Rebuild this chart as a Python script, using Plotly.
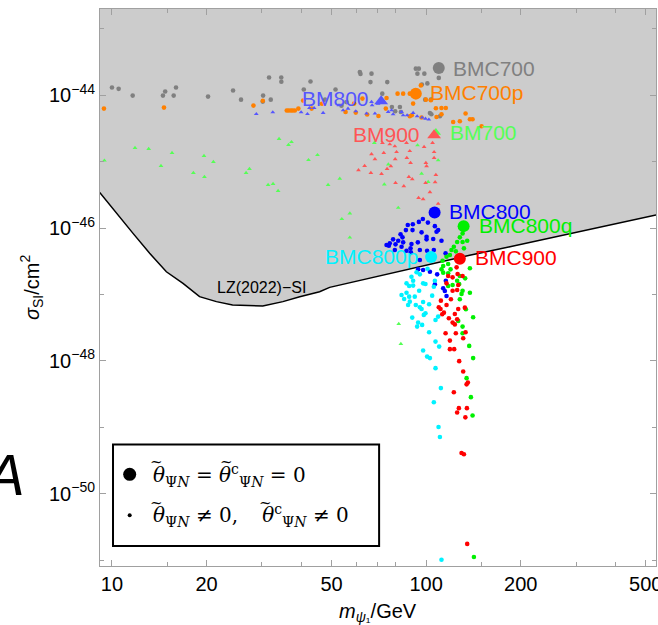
import numpy as np
import plotly.graph_objects as go

# ---------------- data ----------------
# LZ(2022) spin-independent exclusion limit
lz_mass = [9.14, 10.33, 11.67, 13.18, 14.90, 16.83, 19.0, 21.5, 24.2, 30.2, 35.0, 39.6,
           45.8, 49.3, 72.5, 102.8, 137.5, 184.8, 266.6, 384.6, 539]
lz_sigma = [3.44e-46, 1.66e-46, 8.32e-47, 4.17e-47, 2.2e-47, 1.47e-47, 9.27e-48, 7.8e-48,
            6.95e-48, 6.71e-48, 7.8e-48, 9.27e-48, 1.1e-47, 1.28e-47, 1.96e-47, 2.88e-47,
            3.89e-47, 5.24e-47, 7.64e-47, 1.11e-46, 1.57e-46]

# BMC700 scan (grey)
bmc700_m = [10.0, 10.5, 11.64, 14.53, 14.77, 15.72, 15.99, 20.22, 24.29, 25.75, 30.27, 30.2,
            32.02, 31.62, 34.58, 34.6, 42.84, 40.79, 47.69, 51.47, 53.78, 55.79, 61.5, 61.8,
            67.0, 66.5, 75.2, 72.5, 77.8, 79.7, 82.5, 83.1, 92.7, 94.8, 93.8, 98.7, 96.9,
            100.9, 109.7, 102.8, 103.9, 110.6, 99.3, 103.5]
bmc700_s = [1.31e-44, 1.25e-44, 9.9e-45, 9.9e-45, 1.14e-44, 9.9e-45, 1.31e-44, 9.56e-45,
            1.18e-44, 8.6e-45, 9.9e-45, 8.04e-45, 8.6e-45, 1.85e-44, 1.85e-44, 1.6e-44,
            1.61e-44, 1.22e-44, 8.6e-45, 1.22e-44, 6.95e-45, 7.9e-45, 2.24e-44, 2.1e-44,
            2.12e-44, 1.58e-44, 1.58e-44, 1.06e-44, 6.67e-45, 5.74e-45, 6.67e-45, 5.6e-45,
            2.52e-44, 2.52e-44, 2.12e-44, 2.12e-44, 1.45e-44, 1.51e-44, 1.83e-44, 5.42e-45,
            5.18e-45, 4.83e-45, 8.6e-45, 8.6e-45]

# BMC700p scan (orange)
bmc700p_m = [9.43, 14.64, 28.2, 30.2, 36.0, 36.5, 37.1, 37.6, 38.2, 39.2, 40.6, 43.2, 46.6,
             55.4, 59.0, 59.7, 62.7, 64.9, 70.5, 74.4, 74.8, 81.1, 84.5, 88.7, 96.2, 90.9,
             99.8, 103.5, 107.4, 111.9, 115.5, 111.9, 90.0, 96.7, 88.7, 107.9, 121.9, 128.0,
             133.5, 137.8, 140.5, 150.1]
bmc700p_s = [6.31e-45, 6.53e-45, 7.0e-45, 8.27e-45, 5.89e-45, 5.89e-45, 5.89e-45, 5.89e-45,
             5.89e-45, 6.31e-45, 8.32e-45, 6.31e-45, 7.45e-45, 5.61e-45, 7.5e-45, 5.49e-45,
             8.92e-45, 5.13e-45, 4.89e-45, 6.31e-45, 9.11e-45, 1.06e-44, 1.06e-44, 1.06e-44,
             1.41e-44, 7.5e-45, 8.6e-45, 8.41e-45, 6.37e-45, 6.44e-45, 6.44e-45, 5.18e-45,
             5.0e-45, 4.62e-45, 4.83e-45, 4.72e-45, 3.97e-45, 4.06e-45, 5.31e-45, 4.36e-45,
             4.36e-45, 3.42e-45]

# BM800 scan (light blue triangles)
bm800_m = [28.8, 32.5, 40.0, 41.9, 42.5, 44.0, 47.0, 52.8, 54.4, 56.4, 59.7, 64.6, 67.0, 67.3,
           68.7, 70.3, 75.7, 77.6, 78.5, 83.5, 84.5, 87.0, 90.9, 93.6, 97.1, 99.5, 102.0]
bm800_s = [5.23e-45, 5.55e-45, 5.55e-45, 5.23e-45, 6.44e-45, 6.44e-45, 5.42e-45, 7.07e-45,
           5.95e-45, 6.31e-45, 5.74e-45, 5.31e-45, 7.94e-45, 7.07e-45, 5.31e-45, 7.5e-45,
           5.61e-45, 5.95e-45, 5.18e-45, 5.61e-45, 5.0e-45, 5.0e-45, 5.42e-45, 4.83e-45,
           4.62e-45, 4.46e-45, 4.31e-45]

# BM700 scan (light green triangles)
bm700_m = [9.46, 11.84, 13.09, 15.53, 14.32, 19.63, 21.03, 18.16, 19.69, 26.72, 27.39, 34.03,
           36.46, 37.27, 42.22, 45.1, 31.4, 32.56, 33.79, 48.74, 53.1, 57.15, 53.9, 57.15,
           68.4, 75.8, 73.6, 81.5, 96.7, 101.5, 109.2, 93.9, 81.8, 83.1]
bm700_s = [1.04e-45, 1.61e-45, 1.56e-45, 1.36e-45, 8.64e-46, 1.22e-45, 9.93e-46, 6.79e-46,
           5.91e-46, 6.79e-46, 7.79e-46, 2.2e-45, 1.79e-45, 1.98e-45, 1.06e-45, 1.26e-45,
           4.48e-46, 4.64e-46, 3.64e-46, 4.48e-46, 5.55e-46, 1.66e-46, 1.37e-46, 7.2e-47,
           1.92e-45, 9.1e-46, 4.54e-46, 2.02e-46, 6.6e-46, 4.97e-46, 1.05e-45, 1.77e-45,
           3.6e-48, 1.8e-48]

# BM900 scan (light red triangles)
bm900_m = [72.6, 76.6, 79.5, 86.6, 98.5, 104.8, 67.0, 73.3, 80.5, 88.7, 106.0, 68.7, 79.7,
           86.8, 106.0, 63.7, 77.2, 89.2, 99.8, 100.3, 60.9, 66.7, 72.1, 75.1, 88.1, 90.3,
           107.4, 79.9, 84.9, 99.6, 106.8, 102.8, 94.6, 97.8, 109.2]
bm900_s = [1.92e-45, 1.83e-45, 1.71e-45, 1.92e-45, 1.67e-45, 1.92e-45, 1.3e-45, 1.36e-45,
           1.4e-45, 1.45e-45, 1.4e-45, 1.09e-45, 1.09e-45, 1.14e-45, 1.14e-45, 8.64e-46,
           8.56e-46, 9.59e-46, 9.59e-46, 8.56e-46, 7.45e-46, 6.79e-46, 6.55e-46, 7.79e-46,
           5.91e-46, 5.45e-46, 6.33e-46, 4.8e-46, 4.28e-46, 4.8e-46, 4.92e-46, 3.48e-46,
           2.85e-46, 2.73e-46, 2.32e-46]

# BMC800 scan (blue)
bmc800_m = [97.6, 101.3, 94.8, 90.7, 87.4, 86.2, 90.5, 96.7, 106.6, 107.9, 111.9, 100.3, 82.9,
            84.1, 81.5, 78.5, 76.1, 79.9, 84.5, 89.8, 94.1, 100.3, 105.3, 109.2, 95.5, 89.2,
            86.6, 83.5, 79.5, 76.6, 74.8, 100.7, 105.8, 115.3, 94.3, 97.8, 102.8, 108.4,
            115.5, 106.6, 113.3, 114.7, 116.1, 89.4, 95.5]
bmc800_s = [1.37e-46, 1.21e-46, 1.24e-46, 1.14e-46, 1.11e-46, 9.33e-47, 9.33e-47, 8.62e-47,
            1.07e-46, 8.8e-47, 6.44e-47, 7.4e-47, 8.04e-47, 7.25e-47, 6.44e-47, 6.76e-47,
            5.42e-47, 5.69e-47, 6.1e-47, 5.75e-47, 6.1e-47, 6.76e-47, 6.83e-47, 9.33e-47,
            4.67e-47, 4.95e-47, 4.56e-47, 5.23e-47, 4.67e-47, 5.89e-47, 5.55e-47, 4.56e-47,
            4.67e-47, 4.16e-47, 2.39e-47, 2.34e-47, 2.2e-47, 2.01e-47, 1.61e-47, 1.42e-47,
            1.24e-47, 1.13e-47, 9.5e-48, 4.31e-47, 3.3e-47]

# BMC800p scan (cyan)
bmc800p_m = [93.2, 95.5, 101.0, 90.9, 89.8, 86.6, 88.3, 90.9, 97.8, 99.5, 105.8, 106.6, 95.0,
             86.6, 83.5, 92.0, 85.1, 88.3, 88.7, 87.6, 97.8, 102.2, 104.5, 92.7, 95.5, 96.7,
             99.5, 98.3, 90.3, 109.2, 107.1, 94.3, 93.6, 97.1, 102.2, 107.1, 110.0, 97.8,
             100.7, 102.8, 107.1, 111.4, 105.8, 109.5, 110.6, 111.9]
bmc800p_s = [2.16e-47, 2.01e-47, 2.44e-47, 1.61e-47, 1.85e-47, 1.47e-47, 1.34e-47, 1.36e-47,
             1.47e-47, 1.44e-47, 1.31e-47, 1.61e-47, 1.14e-47, 1.06e-47, 9.83e-48, 9.27e-48,
             8.56e-48, 9.27e-48, 7.79e-48, 6.95e-48, 7.71e-48, 7.12e-48, 9.6e-48, 6.95e-48,
             6.42e-48, 6.05e-48, 5.22e-48, 4.92e-48, 4.48e-48, 4.64e-48, 4.13e-48, 3.77e-48,
             3.28e-48, 3.48e-48, 2.7e-48, 1.95e-48, 1.64e-48, 1.43e-48, 1.16e-48, 1.1e-48,
             7.77e-49, 3.89e-49, 2.38e-49, 1.01e-49, 7.12e-50, 1.01e-51]

# BMC800q scan (green)
bmc800q_m = [130.6, 128.0, 125.5, 130.6, 135.1, 122.5, 120.4, 124.3, 131.9, 119.0, 116.1,
             112.8, 117.5, 113.3, 111.9, 119.6, 137.8, 113.3, 117.5, 128.0, 133.1, 125.5,
             127.4, 117.5, 121.4, 130.6, 137.8, 129.6, 128.0, 133.8, 141.1, 126.5, 130.6,
             130.6, 137.1, 141.1, 134.5, 138.8, 140.5, 141.9]
bmc800q_s = [8.32e-47, 7.25e-47, 6.16e-47, 6.16e-47, 6.44e-47, 5.23e-47, 4.67e-47, 4.46e-47,
             4.95e-47, 3.93e-47, 3.7e-47, 3.22e-47, 2.87e-47, 2.68e-47, 2.39e-47, 2.39e-47,
             2.48e-47, 2.13e-47, 2.08e-47, 1.9e-47, 1.75e-47, 1.61e-47, 1.44e-47, 1.34e-47,
             1.39e-47, 1.14e-47, 1.06e-47, 1.02e-47, 8.47e-48, 5.99e-48, 4.54e-48, 4.0e-48,
             3.28e-48, 2.61e-48, 1.68e-48, 1.1e-48, 5.49e-49, 2.84e-49, 1.5e-49, 1.11e-51]

# BMC900 scan (red)
bmc900_m = [125.0, 117.5, 121.4, 125.9, 130.6, 116.1, 126.5, 125.5, 121.4, 111.4, 119.9, 109.7,
            111.1, 113.9, 112.5, 116.1, 123.4, 118.1, 121.4, 123.4, 125.5, 132.8, 126.5, 115.3,
            124.3, 133.5, 131.2, 119.0, 119.0, 122.8, 127.4, 131.2, 135.8, 134.5, 122.5, 127.1,
            134.8, 125.5, 133.3, 129.6, 131.9, 135.1]
bmc900_s = [2.56e-47, 1.9e-47, 1.81e-47, 2.03e-47, 1.9e-47, 1.47e-47, 1.39e-47, 1.17e-47,
            1.14e-47, 8.07e-48, 8.47e-48, 6.42e-48, 6.05e-48, 5.32e-48, 5.04e-48, 6.95e-48,
            5.09e-48, 4.39e-48, 3.77e-48, 3.54e-48, 4.24e-48, 6.33e-48, 6.05e-48, 2.61e-48,
            2.61e-48, 2.7e-48, 2.19e-48, 2.02e-48, 1.5e-48, 1.5e-48, 9.9e-49, 6.9e-49, 4.72e-49,
            4.43e-49, 3.36e-49, 1.94e-49, 1.94e-49, 1.67e-49, 1.41e-49, 4.09e-50, 3.93e-50,
            1.75e-51]

# benchmark points (vanishing mixing angles)
bench_names = ["BMC700", "BMC700p", "BM800", "BM900", "BM700",
               "BMC800", "BMC800q", "BMC800p", "BMC900"]
bench_mass = [109.7, 92.7, 71.9, 106.0, 107.4, 106.4, 131.6, 103.7, 128.0]
bench_sigma = [2.57e-44, 1.06e-44, 8.12e-45, 2.5e-45, 2.75e-45, 1.72e-46, 1.07e-46, 3.66e-47, 3.45e-47]

x_ticks = [10, 20, 50, 100, 200, 500]
x_minor = [15, 30, 40, 60, 70, 80, 150, 300, 400]
y_ticks = [1e-50, 1e-48, 1e-46, 1e-44]
y_tick_text = ["10<sup>\u221250</sup>", "10<sup>\u221248</sup>", "10<sup>\u221246</sup>", "10<sup>\u221244</sup>"]
y_minor = [1e-51, 1e-49, 1e-47, 1e-45, 1e-43]

# ---------------- styling ----------------
GREY = "#808080"
ORANGE = "#ff8000"
LBLUE = "#5555ff"
LRED = "#ff5555"
LGREEN = "#55ff55"
BLUE = "#0000ff"
GREEN = "#00f000"
CYAN = "#00f2ff"
RED = "#ff0000"
AXIS = "#a0a0a0"
SANS = "Liberation Sans, Arial, sans-serif"
SERIF = "DejaVu Serif, serif"

fig = go.Figure()

# excluded region above the LZ limit
fig.add_trace(go.Scatter(
    x=lz_mass + [lz_mass[-1], lz_mass[0]],
    y=lz_sigma + [1e-40, 1e-40],
    mode="lines", fill="toself", fillcolor="#cccccc",
    line=dict(width=0), hoverinfo="skip", showlegend=False))
fig.add_trace(go.Scatter(x=lz_mass, y=lz_sigma, mode="lines",
                         line=dict(color="black", width=1.5), showlegend=False))

def scan(m, s, color, symbol="circle", size=4.6):
    fig.add_trace(go.Scatter(x=m, y=s, mode="markers", showlegend=False,
                             marker=dict(color=color, size=size, symbol=symbol,
                                         line=dict(width=0))))

scan(bmc700_m, bmc700_s, GREY)
scan(bmc700p_m, bmc700p_s, ORANGE)
scan(bm800_m, bm800_s, LBLUE, "triangle-up", 4.2)
scan(bm700_m, bm700_s, LGREEN, "triangle-up", 4.2)
scan(bm900_m, bm900_s, LRED, "triangle-up", 4.2)
scan(bmc800_m, bmc800_s, BLUE)
scan(bmc800p_m, bmc800p_s, CYAN)
scan(bmc800q_m, bmc800q_s, GREEN)
scan(bmc900_m, bmc900_s, RED)

bench_color = [GREY, ORANGE, LBLUE, LRED, LGREEN, BLUE, GREEN, CYAN, RED]
bench_symbol = ["circle", "circle", "triangle-up", "triangle-up", "triangle-up",
                "circle", "circle", "circle", "circle"]
bench_size = [12, 12, 12, 12, 9, 12, 12, 12, 12]
# label placement: (anchor, x shift in px, y shift in px)
bench_label = [("left", 12, 0), ("left", 12, 1), ("right", -10, 3), ("right", -12, 1),
               ("left", 12, 0), ("left", 12, 1), ("left", 13, 1), ("right", -11, 1),
               ("left", 13, 1)]

order = [0, 1, 2, 4, 3, 5, 7, 6, 8]
for i in order:
    fig.add_trace(go.Scatter(x=[bench_mass[i]], y=[bench_sigma[i]], mode="markers",
                             showlegend=False,
                             marker=dict(color=bench_color[i], size=bench_size[i],
                                         symbol=bench_symbol[i], line=dict(width=0))))

annotations = []
for i, name in enumerate(bench_names):
    anchor, dx, dy = bench_label[i]
    annotations.append(dict(x=np.log10(bench_mass[i]), y=np.log10(bench_sigma[i]),
                            xref="x", yref="y", text=name, showarrow=False,
                            xanchor=anchor, yanchor="middle", xshift=dx, yshift=dy,
                            font=dict(family=SANS, size=21, color=bench_color[i])))

annotations.append(dict(x=np.log10(30), y=np.log10(1.26e-47), xref="x", yref="y",
                        text="LZ(2022)\u2212SI", showarrow=False,
                        font=dict(family=SANS, size=16, color="black")))

# axis titles
annotations.append(dict(x=0.5, y=-0.084, xref="paper", yref="paper",
                        text="<i>m</i><sub><i>\u03c8</i>\u2081</sub>/GeV", showarrow=False,
                        xanchor="center", yanchor="middle",
                        font=dict(family=SANS, size=20, color="black")))
annotations.append(dict(x=-0.123, y=0.5, xref="paper", yref="paper",
                        text="<i>\u03c3</i><sub>SI</sub>/cm<sup>2</sup>", showarrow=False,
                        textangle=-90, xanchor="center", yanchor="middle",
                        font=dict(family=SANS, size=20, color="black")))

# panel letter
annotations.append(dict(x=-0.132, y=0.165, xref="paper", yref="paper",
                        text="<i>A</i>", showarrow=False, xanchor="right", yanchor="middle",
                        font=dict(family=SANS, size=58, color="black")))

# legend box contents
theta = "<i>\u03b8</i>"
annotations.append(dict(x=0.0925, y=0.163, xref="paper", yref="paper",
                        text=f"{theta}<sub>\u03a8<i>N</i></sub> = {theta}<sup>c</sup><sub>\u03a8<i>N</i></sub> = 0",
                        showarrow=False, xanchor="left", yanchor="middle",
                        font=dict(family=SERIF, size=20, color="black")))
annotations.append(dict(x=0.0925, y=0.09, xref="paper", yref="paper",
                        text=f"{theta}<sub>\u03a8<i>N</i></sub> \u2260 0,\u2003\u2009{theta}<sup>c</sup><sub>\u03a8<i>N</i></sub> \u2260 0",
                        showarrow=False, xanchor="left", yanchor="middle",
                        font=dict(family=SERIF, size=20, color="black")))
# wide tildes over each theta
for tx, ty in [(0.102, 0.186), (0.228, 0.186), (0.102, 0.113), (0.298, 0.113)]:
    annotations.append(dict(x=tx, y=ty, xref="paper", yref="paper", text="~",
                            showarrow=False, xanchor="center", yanchor="middle",
                            font=dict(family=SERIF, size=15, color="black")))

shapes = [
    dict(type="rect", xref="paper", yref="paper", x0=0.0234, x1=0.502, y0=0.036, y1=0.218,
         line=dict(color="black", width=2), fillcolor="white", layer="above"),
    dict(type="circle", xref="paper", yref="paper", xsizemode="pixel", ysizemode="pixel",
         xanchor=0.0534, yanchor=0.1646, x0=-6.5, x1=6.5, y0=-6.5, y1=6.5,
         fillcolor="black", line=dict(width=0), layer="above"),
    dict(type="circle", xref="paper", yref="paper", xsizemode="pixel", ysizemode="pixel",
         xanchor=0.0534, yanchor=0.091, x0=-2, x1=2, y0=-2, y1=2,
         fillcolor="black", line=dict(width=0), layer="above"),
]

fig.update_xaxes(type="log", range=[np.log10(9.16), np.log10(539)],
                 showline=True, linecolor=AXIS, linewidth=1, mirror="ticks",
                 ticks="inside", ticklen=6, tickcolor=AXIS, tickwidth=1,
                 tickvals=x_ticks, ticktext=[str(v) for v in x_ticks],
                 ticklabeloverflow="allow", automargin=False,
                 tickfont=dict(family=SANS, size=20, color="black"),
                 minor=dict(tickvals=x_minor, ticks="inside", ticklen=4, tickcolor=AXIS),
                 showgrid=False, zeroline=False)
fig.update_yaxes(type="log", range=[-51.09, -42.70],
                 showline=True, linecolor=AXIS, linewidth=1, mirror="ticks",
                 ticks="inside", ticklen=6, tickcolor=AXIS, tickwidth=1,
                 tickvals=y_ticks, ticktext=y_tick_text, automargin=False,
                 tickfont=dict(family=SANS, size=20, color="black"),
                 minor=dict(tickvals=y_minor, ticks="inside", ticklen=4, tickcolor=AXIS),
                 showgrid=False, zeroline=False)

fig.update_layout(width=658, height=625,
                  margin=dict(l=100, r=2, t=9, b=59, pad=0),
                  plot_bgcolor="white", paper_bgcolor="white",
                  showlegend=False, annotations=annotations, shapes=shapes)

fig.write_html("out.html")
